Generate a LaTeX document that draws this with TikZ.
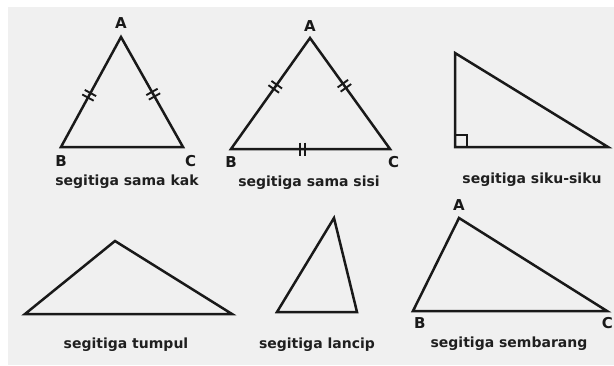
\documentclass[tikz,border=0pt]{standalone}
\usepackage{fontspec}
\setmainfont{DejaVu Sans}
\usetikzlibrary{positioning,calc}
\tikzset{%
  side/.style    = { line width = 2.5pt, line join = miter, draw = black!90 },
  tick/.style    = { line width = 1.9pt, draw = black!90 },
  vlabel/.style  = { font = \bfseries\fontsize{15}{15}\selectfont, inner sep = 0pt, text = black!90 },
  caption/.style = { font = \bfseries\fontsize{14}{14}\selectfont, inner sep = 0pt, text = black!88, anchor = base },
}
\newcommand{\bgcolor}{black!6}
% double tick on side #1--#2 at fraction #3
\newcommand{\dticks}[3]{%
  \coordinate (tm) at ($(#1)!#3!(#2)$);
  \foreach \s in {-2.6pt,2.6pt}
    \draw[tick] ($(tm)!\s!(#2)!6.5pt!90:(#2)$) -- ($(tm)!\s!(#2)!6.5pt!-90:(#2)$);
}

\begin{document}
\begin{tikzpicture}[x=1pt, y=-1pt]
    \useasboundingbox (0,0) rectangle (614,365);
    \fill[\bgcolor] (8,7) rectangle (614,365);
    % vertices -------------------------------------------------------------------------------------
    % sama kaki
    \coordinate (A1) at (121,37);  \coordinate (B1) at (61,147);  \coordinate (C1) at (183,147);
    % sama sisi
    \coordinate (A2) at (310,38);  \coordinate (B2) at (231,149); \coordinate (C2) at (390,149);
    % siku-siku
    \coordinate (A3) at (455,53);  \coordinate (B3) at (455,147); \coordinate (C3) at (608,147);
    % tumpul
    \coordinate (A4) at (115,241); \coordinate (B4) at (25,314);  \coordinate (C4) at (232,314);
    % lancip
    \coordinate (A5) at (334,218); \coordinate (B5) at (277,312); \coordinate (C5) at (357,312);
    % sembarang
    \coordinate (A6) at (459,218); \coordinate (B6) at (413,311); \coordinate (C6) at (607,311);
    % vertex labels --------------------------------------------------------------------------------
    \node(la1) [vlabel, above = 8pt of A1]                 {A};
    \node(lb1) [vlabel, below = 8pt of B1]                 {B};
    \node(lc1) [vlabel, below right = 8pt and 2pt of C1]   {C};
    \node(la2) [vlabel, above = 6pt of A2]                 {A};
    \node(lb2) [vlabel, below = 7pt of B2]                 {B};
    \node(lc2) [vlabel, below right = 7pt and -2pt of C2]  {C};
    \node(la6) [vlabel, above = 7pt of A6]                 {A};
    \node(lb6) [vlabel, below right = 6pt and 1pt of B6]   {B};
    \node(lc6) [vlabel, below left = 6pt and -6pt of C6]   {C};
    % captions -------------------------------------------------------------------------------------
    \node(t1) [caption] at (127,185) {segitiga sama kak};
    \node(t2) [caption] at (309,186) {segitiga sama sisi};
    \node(t3) [caption] at (532,183) {segitiga siku-siku};
    \node(t4) [caption] at (126,348) {segitiga tumpul};
    \node(t5) [caption] at (317,348) {segitiga lancip};
    \node(t6) [caption] at (509,347) {segitiga sembarang};
    % sides ----------------------------------------------------------------------------------------
    \foreach \i in {1,...,6}
      \draw[side] (A\i) -- (B\i) -- (C\i) -- cycle;
    % marks ----------------------------------------------------------------------------------------
    \dticks{A1}{B1}{0.53}
    \dticks{A1}{C1}{0.52}
    \dticks{A2}{B2}{0.44}
    \dticks{A2}{C2}{0.43}
    \dticks{B2}{C2}{0.45}
    \draw[tick] ($(B3)+(0,-12)$) -| ($(B3)+(12,0)$);
\end{tikzpicture}
\end{document}
